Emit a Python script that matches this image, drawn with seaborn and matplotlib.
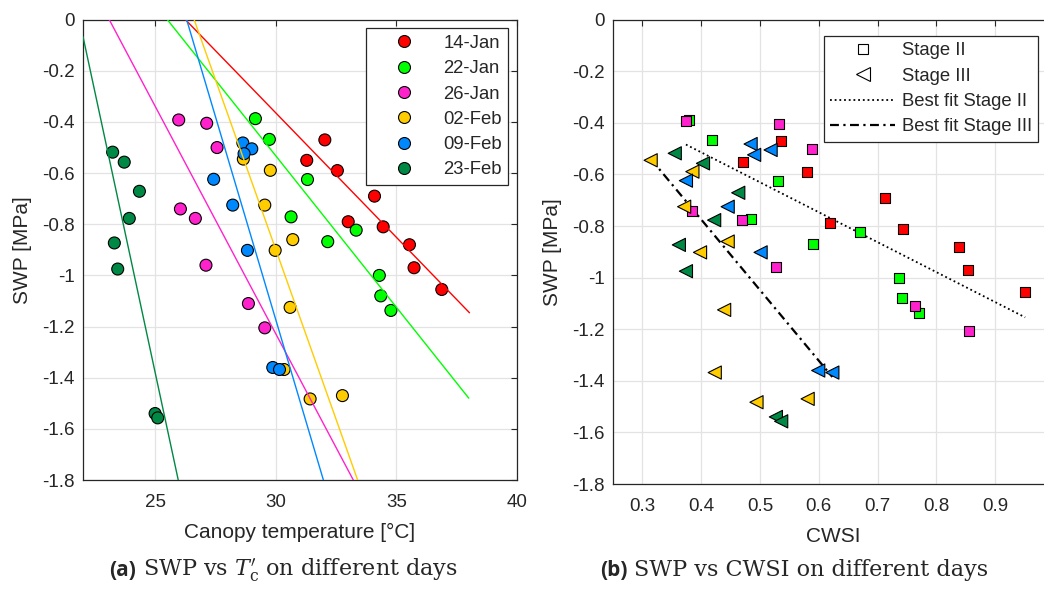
import matplotlib
matplotlib.use("Agg")
import matplotlib.pyplot as plt
from matplotlib.lines import Line2D
from matplotlib.ticker import FuncFormatter
import seaborn as sns
import pandas as pd

# measurement days and their colours
days = ["14-Jan", "22-Jan", "26-Jan", "02-Feb", "09-Feb", "23-Feb"]
day_colors = ["#ff0000", "#00ff00", "#ff22cc", "#ffcc00", "#0088ff", "#008845"]
stage_of_day = ["Stage II", "Stage II", "Stage II", "Stage III", "Stage III", "Stage III"]

# canopy temperature [degC]
temp_14jan = [32.03, 31.28, 32.55, 34.09, 33.00, 34.45, 35.54, 35.73, 36.88]
temp_22jan = [29.15, 29.73, 31.31, 30.63, 32.15, 33.33, 34.29, 34.35, 34.77]
temp_26jan = [25.97, 27.13, 27.56, 26.04, 26.66, 27.10, 28.86, 29.54]
temp_02feb = [28.65, 29.77, 29.54, 29.97, 30.70, 30.59, 30.34, 31.42, 32.76]
temp_09feb = [28.63, 29.00, 28.68, 27.42, 28.21, 28.82, 29.87, 30.15]
temp_23feb = [23.23, 23.71, 24.34, 23.92, 23.30, 23.44, 24.99, 25.10]

# CWSI
cwsi_14jan = [0.536, 0.471, 0.580, 0.713, 0.619, 0.744, 0.838, 0.853, 0.951]
cwsi_22jan = [0.379, 0.419, 0.531, 0.485, 0.590, 0.670, 0.737, 0.742, 0.771]
cwsi_26jan = [0.374, 0.532, 0.589, 0.385, 0.470, 0.527, 0.764, 0.855]
cwsi_02feb = [0.314, 0.385, 0.371, 0.398, 0.445, 0.439, 0.423, 0.494, 0.581]
cwsi_09feb = [0.484, 0.518, 0.490, 0.374, 0.445, 0.501, 0.599, 0.623]
cwsi_23feb = [0.355, 0.403, 0.463, 0.422, 0.362, 0.374, 0.527, 0.536]

# stem water potential [MPa]
swp_14jan = [-0.47, -0.55, -0.59, -0.69, -0.79, -0.81, -0.88, -0.97, -1.055]
swp_22jan = [-0.387, -0.468, -0.625, -0.771, -0.868, -0.823, -1.0, -1.08, -1.137]
swp_26jan = [-0.392, -0.405, -0.50, -0.74, -0.777, -0.96, -1.11, -1.205]
swp_02feb = [-0.545, -0.589, -0.725, -0.902, -0.86, -1.125, -1.368, -1.483, -1.47]
swp_09feb = [-0.482, -0.505, -0.524, -0.624, -0.725, -0.902, -1.36, -1.368]
swp_23feb = [-0.518, -0.557, -0.671, -0.777, -0.873, -0.975, -1.54, -1.557]

# per-day linear fits (end points), left panel
fit_temp = [[26.25, 38.03], [25.5, 38.0], [23.09, 33.21], [26.61, 33.39], [26.30, 31.97], [22.0, 25.95]]
fit_swp = [[0.0, -1.146], [0.0, -1.48], [0.0, -1.8], [0.0, -1.8], [0.0, -1.8], [-0.066, -1.8]]

# stage fits (end points), right panel
fit2_cwsi = [0.374, 0.951]
fit2_swp = [-0.484, -1.154]
fit3_cwsi = [0.314, 0.623]
fit3_swp = [-0.539, -1.385]

swp_ticks = [0, -0.2, -0.4, -0.6, -0.8, -1.0, -1.2, -1.4, -1.6, -1.8]
temp_ticks = [25, 30, 35, 40]
cwsi_ticks = [0.3, 0.4, 0.5, 0.6, 0.7, 0.8, 0.9]

temps = [temp_14jan, temp_22jan, temp_26jan, temp_02feb, temp_09feb, temp_23feb]
cwsis = [cwsi_14jan, cwsi_22jan, cwsi_26jan, cwsi_02feb, cwsi_09feb, cwsi_23feb]
swps = [swp_14jan, swp_22jan, swp_26jan, swp_02feb, swp_09feb, swp_23feb]

frames = []
for d, st, t, c, s in zip(days, stage_of_day, temps, cwsis, swps):
    frames.append(pd.DataFrame({"day": d, "stage": st, "temp": t, "cwsi": c, "swp": s}))
df = pd.concat(frames, ignore_index=True)
palette = dict(zip(days, day_colors))

sns.set_style("white")
plt.rcParams["font.family"] = ["Liberation Sans", "DejaVu Sans"]
plt.rcParams["axes.unicode_minus"] = False
plt.rcParams["mathtext.fontset"] = "dejavuserif"

axc = "#262626"
fig = plt.figure(figsize=(10.44, 5.96), dpi=100)
ax1 = fig.add_axes([83 / 1044, 1 - 480 / 596, 434 / 1044, 460.3 / 596])
ax2 = fig.add_axes([613 / 1044, 1 - 484 / 596, 441 / 1044, 464.3 / 596])

# left panel
sns.scatterplot(data=df, x="temp", y="swp", hue="day", palette=palette, s=74,
                edgecolor="black", linewidth=0.8, legend=False, ax=ax1, zorder=3)
for c, ft, fs in zip(day_colors, fit_temp, fit_swp):
    ax1.plot(ft, fs, color=c, lw=1.0, zorder=4)
ax1.set_xlim(22, 40)
ax1.set_xticks(temp_ticks)

# right panel
st2 = df[df["stage"] == "Stage II"]
st3 = df[df["stage"] == "Stage III"]
ax2.plot(fit2_cwsi, fit2_swp, color="black", lw=1.3, ls=(0, (1, 1.6)), zorder=2)
ax2.plot(fit3_cwsi, fit3_swp, color="black", lw=1.6, ls=(0, (4, 2, 1, 2)), zorder=2)
sns.scatterplot(data=st2, x="cwsi", y="swp", hue="day", palette=palette, marker="s", s=52,
                edgecolor="black", linewidth=0.8, legend=False, ax=ax2, zorder=3)
sns.scatterplot(data=st3, x="cwsi", y="swp", hue="day", palette=palette, marker="<", s=90,
                edgecolor="black", linewidth=0.8, legend=False, ax=ax2, zorder=3)
ax2.set_xlim(0.25, 1.0)
ax2.set_xticks(cwsi_ticks)

fmt = FuncFormatter(lambda v, p: f"{v:g}")
for ax, xl in [(ax1, "Canopy temperature [°C]"), (ax2, "CWSI")]:
    ax.set_ylim(-1.8, 0)
    ax.set_yticks(swp_ticks)
    ax.yaxis.set_major_formatter(fmt)
    ax.xaxis.set_major_formatter(fmt)
    ax.grid(True, color="#e3e3e3", lw=0.9, zorder=0)
    ax.set_axisbelow(True)
    for sp in ax.spines.values():
        sp.set_color(axc)
        sp.set_linewidth(0.9)
        sp.set_visible(True)
    ax.tick_params(direction="in", top=True, right=True, length=4, width=0.8,
                   color=axc, labelcolor=axc, labelsize=13.5)
    ax.tick_params(axis="x", pad=10)
    ax.tick_params(axis="y", pad=6)
    ax.set_xlabel(xl, fontsize=15, color=axc, labelpad=9)
    ax.set_ylabel("SWP [MPa]", fontsize=15, color=axc, labelpad=7)

leg_kw = dict(loc="upper right", fontsize=13.3, frameon=True, fancybox=False, framealpha=1,
              edgecolor=axc, borderpad=0.35, handlelength=3.5, handletextpad=0.35,
              labelspacing=0.45, borderaxespad=0)
h1 = [Line2D([], [], ls="", marker="o", markersize=8.6, markerfacecolor=c,
             markeredgecolor="black", markeredgewidth=0.8) for c in day_colors]
lg1 = ax1.legend(h1, days, bbox_to_anchor=(0.98, 0.981), **leg_kw)
lg1.get_frame().set_linewidth(0.9)

h2 = [Line2D([], [], ls="", marker="s", markersize=7.2, markerfacecolor="white",
             markeredgecolor="black", markeredgewidth=0.8),
      Line2D([], [], ls="", marker="<", markersize=9.4, markerfacecolor="white",
             markeredgecolor="black", markeredgewidth=0.8),
      Line2D([], [], color="black", lw=1.3, ls=(0, (1, 1.6))),
      Line2D([], [], color="black", lw=1.6, ls=(0, (4, 2, 1, 2)))]
lg2 = ax2.legend(h2, ["Stage II", "Stage III", "Best fit Stage II", "Best fit Stage III"],
                 bbox_to_anchor=(0.964, 0.965), **leg_kw)
lg2.get_frame().set_linewidth(0.9)

# captions
renderer = fig.canvas.get_renderer()
def caption(cx, tag, body):
    t1 = fig.text(0, 0, tag, fontsize=15, fontweight="bold", family="Open Sans", va="baseline")
    t2 = fig.text(0, 0, body, fontsize=16, family="DejaVu Serif", va="baseline")
    w1 = t1.get_window_extent(renderer).width
    w2 = t2.get_window_extent(renderer).width
    gap = 7
    x0 = cx - (w1 + gap + w2) / 2
    yb = 1 - 576 / 596
    t1.set_position((x0 / 1044, yb))
    t2.set_position(((x0 + w1 + gap) / 1044, yb))

caption(283, "(a)", r"SWP vs $T_{\rm c}'$ on different days")
caption(794, "(b)", "SWP vs CWSI on different days")

fig.savefig("out.png", dpi=100)
